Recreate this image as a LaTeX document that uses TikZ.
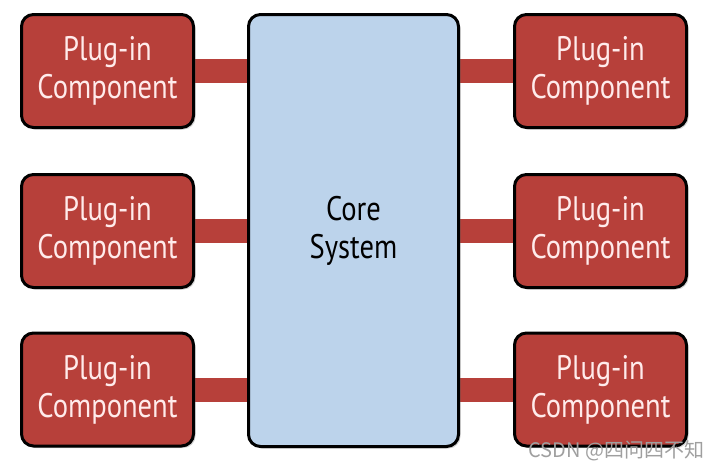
\documentclass[tikz,border=0pt]{standalone}
\usepackage{fontspec}
\setmainfont[FakeStretch=0.84]{PT Sans}
\newfontfamily\cjkfont{Noto Sans CJK SC}
\usetikzlibrary{positioning,shadows,backgrounds}

\definecolor{plugred}{RGB}{183,64,58}
\definecolor{coreblue}{RGB}{188,211,235}

\begin{document}
\begin{tikzpicture}[
  x=1pt,y=-1pt,
  font=\fontsize{34}{38}\selectfont,
  plugin/.style={rectangle,rounded corners=12pt,draw=black,line width=3pt,fill=plugred,
                 text=white!92!red,minimum width=172pt,minimum height=113pt,align=center,
                 inner sep=0pt,drop shadow={opacity=0.35,shadow xshift=2pt,shadow yshift=-2pt}},
  core/.style={plugin,fill=coreblue,text=black,minimum width=210pt,minimum height=432pt},
  link/.style={plugred,line width=24pt},
]
\useasboundingbox (0,0) rectangle (712,472);
% ===== core =====
\node[core] (core) at (353.5,230.5) {Core\\System};

% ===== plug-ins, left column =====
\node[plugin] (pl1) at (107.5,71) {Plug-in\\Component};
\node[plugin] (pl2) at (107.5,231) {Plug-in\\Component};
\node[plugin] (pl3) at (107.5,389.5) {Plug-in\\Component};

% ===== plug-ins, right column =====
\node[plugin] (pr1) at (600.5,71) {Plug-in\\Component};
\node[plugin] (pr2) at (600.5,231) {Plug-in\\Component};
\node[plugin] (pr3) at (600.5,389.5) {Plug-in\\Component};

% links to the core
\begin{scope}[on background layer]
\draw[link] (pl1.east) -- (pl1.east -| core.west);
\draw[link] (pl2.east) -- (pl2.east -| core.west);
\draw[link] (pl3.east) -- (pl3.east -| core.west);
\draw[link] (pr1.west) -- (pr1.west -| core.east);
\draw[link] (pr2.west) -- (pr2.west -| core.east);
\draw[link] (pr3.west) -- (pr3.west -| core.east);
\end{scope}

\node[font=\cjkfont\fontsize{20}{22}\selectfont,text=gray!75,anchor=east] (mark) at (708,451) {CSDN @四问四不知};
\end{tikzpicture}
\end{document}
